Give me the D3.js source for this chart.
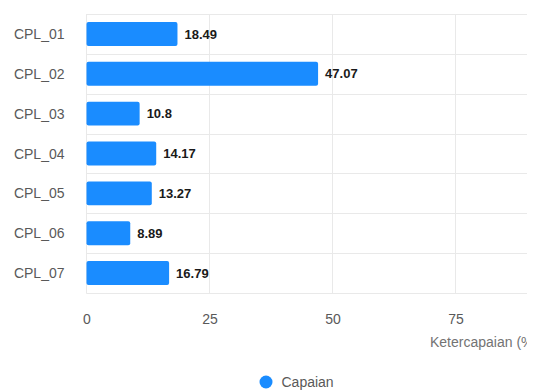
<!DOCTYPE html>
<html>
<head>
<meta charset="utf-8">
<script src="https://cdn.jsdelivr.net/npm/d3@7/dist/d3.min.js"></script>
<style>
  html, body { margin: 0; padding: 0; background: #fff; }
  svg { display: block; font-family: "Liberation Sans", Arial, Helvetica, sans-serif; }
</style>
</head>
<body>
<svg id="chart" width="534" height="391"></svg>
<script>
const categories = ["CPL_01", "CPL_02", "CPL_03", "CPL_04", "CPL_05", "CPL_06", "CPL_07"];
const values = [18.49, 47.07, 10.8, 14.17, 13.27, 8.89, 16.79];
const xTicks = [0, 25, 50, 75];
const gridValues = [0, 25, 50, 75, 100];
const seriesName = "Capaian";
const axisTitle = "Ketercapaian (%)";

(function () {
const svg = d3.select("#chart");
const plotLeft = 86.5, plotTop = 14, plotBottom = 293, clipRight = 527;

const x = d3.scaleLinear().domain([0, 100]).range([plotLeft, plotLeft + 492]);
const y = d3.scaleBand().domain(categories).range([plotTop, plotBottom]).paddingInner(0.4).paddingOuter(0.2);

svg.append("defs").append("clipPath").attr("id", "clip")
  .append("rect").attr("x", 0).attr("y", 0).attr("width", clipRight).attr("height", 391);

const g = svg.append("g").attr("clip-path", "url(#clip)");

// horizontal grid lines at band boundaries
const boundaries = d3.range(categories.length + 1).map(i => (plotBottom - plotTop) / categories.length * i + plotTop);
g.selectAll("line.h").data(boundaries).join("line")
  .attr("class", "h")
  .attr("x1", plotLeft).attr("x2", x(100))
  .attr("y1", d => Math.round(d) + 0.5).attr("y2", d => Math.round(d) + 0.5)
  .attr("stroke", "#e9e9e9").attr("stroke-width", 1);

// vertical grid lines
g.selectAll("line.v").data(gridValues).join("line")
  .attr("class", "v")
  .attr("x1", d => Math.round(x(d)) - 0.5).attr("x2", d => Math.round(x(d)) - 0.5)
  .attr("y1", plotTop).attr("y2", plotBottom + 0.5)
  .attr("stroke", "#e9e9e9").attr("stroke-width", 1);

// bars
g.selectAll("rect.bar").data(categories).join("rect")
  .attr("class", "bar")
  .attr("x", x(0))
  .attr("y", d => y(d))
  .attr("width", (d, i) => x(values[i]) - x(0))
  .attr("height", y.bandwidth())
  .attr("rx", 2).attr("ry", 2)
  .attr("fill", "#1a8cff");

// value labels
g.selectAll("text.val").data(categories).join("text")
  .attr("class", "val")
  .attr("x", (d, i) => x(values[i]) + 7)
  .attr("y", d => y(d) + y.bandwidth() / 2)
  .attr("dy", "0.36em")
  .attr("font-size", 13).attr("font-weight", "bold")
  .attr("fill", "#1a1a1a")
  .text((d, i) => values[i]);

// y axis labels
const yAxis = d3.axisLeft(y).tickSize(0).tickPadding(0);
const ya = svg.append("g").attr("transform", `translate(${plotLeft - 22},0)`).call(yAxis);
ya.select(".domain").remove();
ya.selectAll("text").attr("font-size", 14).attr("fill", "#595959")
  .attr("font-family", "'Liberation Sans', Arial, sans-serif").attr("dy", "0.36em");

// x axis labels
const xAxis = d3.axisBottom(x).tickValues(xTicks).tickSize(0).tickPadding(0).tickFormat(d3.format("d"));
const xa = svg.append("g").attr("transform", `translate(0,${plotBottom + 18})`).call(xAxis);
xa.select(".domain").remove();
xa.selectAll("text").attr("font-size", 14).attr("fill", "#595959")
  .attr("font-family", "'Liberation Sans', Arial, sans-serif").attr("dy", "0.9em");

// axis title (cut at the right edge as in the original)
g.append("text")
  .attr("x", 430).attr("y", 347)
  .attr("font-size", 14).attr("fill", "#737373")
  .text(axisTitle);

// legend
const lg = svg.append("g").attr("transform", "translate(266,382)");
lg.append("circle").attr("r", 6.5).attr("fill", "#1a8cff");
lg.append("text").attr("x", 15.5).attr("dy", "0.36em")
  .attr("font-size", 14).attr("fill", "#595959").text(seriesName);
})();
</script>
</body>
</html>
